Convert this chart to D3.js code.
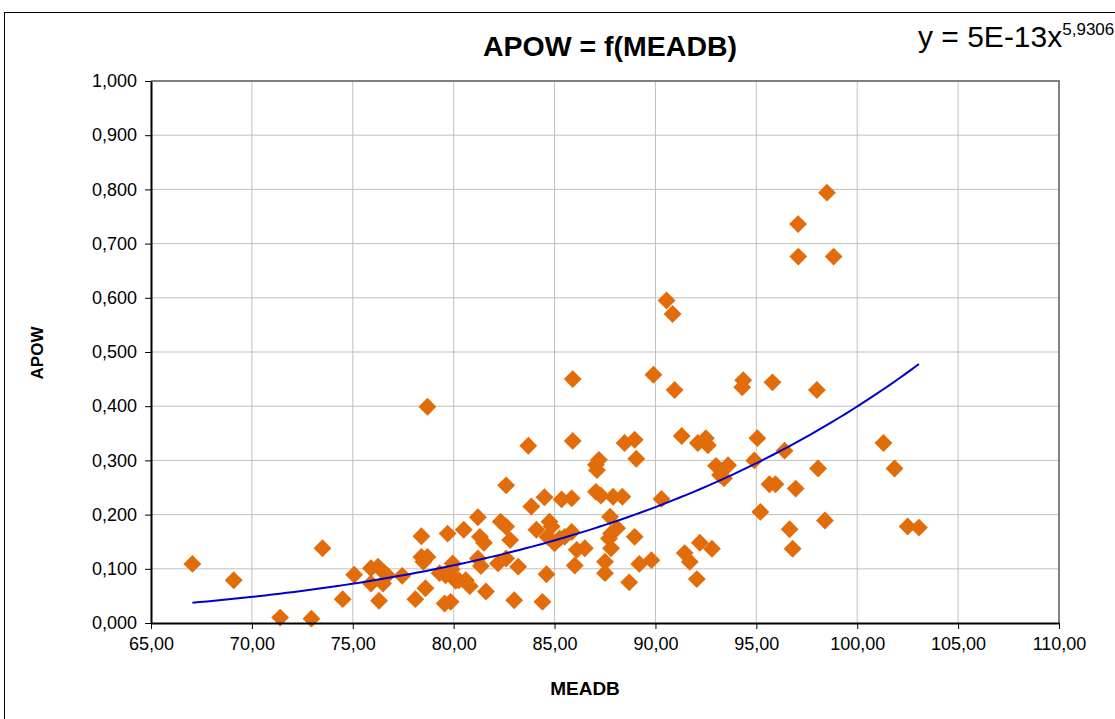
<!DOCTYPE html>
<html>
<head>
<meta charset="utf-8">
<script src="https://cdn.jsdelivr.net/npm/d3@7"></script>
<style>
  body { margin: 0; background: #fff; }
  svg text { font-family: "Liberation Sans", Arial, sans-serif; fill: #000; }
</style>
</head>
<body>
<div id="chart"></div>
<script>
// values: MEADB (x) and APOW (y)
const meadb = [
  67.05, 69.10, 71.40, 72.95, 73.50, 74.50, 75.07, 75.90, 76.25, 76.55,
  76.70, 75.90, 76.50, 76.30, 77.45, 78.10, 78.40, 78.40, 78.70, 78.50,
  78.60, 78.70, 79.30, 79.60, 79.70, 79.55, 79.85, 79.90, 79.95, 80.10,
  80.25, 80.50, 80.60, 80.80, 81.20, 81.30, 81.50, 81.20, 81.35, 81.60,
  82.20, 82.33, 82.60, 82.60, 82.60, 82.80, 83.20, 83.00, 83.70, 83.85,
  84.10, 84.50, 84.60, 84.40, 84.75, 84.85, 84.65, 85.00, 85.25, 85.35,
  85.85, 85.90, 85.90, 85.85, 85.50, 86.00, 86.10, 86.50, 87.05, 87.10,
  87.20, 87.05, 87.30, 87.50, 87.50, 87.75, 87.90, 88.36, 88.10, 87.80,
  87.70, 87.80, 88.47, 88.97, 89.05, 88.97, 88.70, 89.20, 89.80, 89.90,
  90.30, 90.55, 90.85, 90.95, 91.30, 91.45, 91.70, 92.05, 92.20, 92.80,
  92.10, 92.50, 92.60, 93.00, 93.60, 93.40, 93.20, 94.30, 94.35, 95.05,
  94.90, 95.20, 95.65, 95.95, 95.80, 96.40, 96.95, 96.65, 96.80, 97.07,
  97.08, 98.50, 98.83, 98.00, 98.06, 98.40, 101.30, 101.85, 102.50, 103.06
];
const apow = [
  0.109, 0.079, 0.010, 0.008, 0.138, 0.044, 0.089, 0.101, 0.104, 0.093,
  0.088, 0.073, 0.073, 0.041, 0.087, 0.044, 0.160, 0.122, 0.122, 0.113,
  0.064, 0.399, 0.092, 0.088, 0.165, 0.036, 0.039, 0.099, 0.110, 0.078,
  0.079, 0.172, 0.079, 0.068, 0.195, 0.159, 0.148, 0.119, 0.105, 0.058,
  0.110, 0.187, 0.178, 0.119, 0.254, 0.153, 0.104, 0.042, 0.327, 0.215,
  0.172, 0.232, 0.090, 0.039, 0.187, 0.178, 0.159, 0.147, 0.156, 0.228,
  0.230, 0.450, 0.336, 0.168, 0.159, 0.106, 0.135, 0.138, 0.292, 0.282,
  0.301, 0.242, 0.235, 0.113, 0.092, 0.196, 0.233, 0.233, 0.175, 0.165,
  0.156, 0.138, 0.332, 0.338, 0.303, 0.159, 0.075, 0.109, 0.116, 0.458,
  0.229, 0.595, 0.570, 0.430, 0.345, 0.129, 0.113, 0.081, 0.148, 0.137,
  0.332, 0.341, 0.328, 0.290, 0.291, 0.267, 0.273, 0.435, 0.448, 0.341,
  0.300, 0.205, 0.256, 0.256, 0.444, 0.318, 0.248, 0.173, 0.137, 0.736,
  0.676, 0.794, 0.676, 0.430, 0.285, 0.189, 0.332, 0.285, 0.178, 0.176
];

// tick values
const xTicks = [65, 70, 75, 80, 85, 90, 95, 100, 105, 110];
const yTicks = [0, 0.1, 0.2, 0.3, 0.4, 0.5, 0.6, 0.7, 0.8, 0.9, 1.0];

// power trendline y = a * x^b  (label shows 5E-13 / 5,9306)
const trendA = 5.5e-13, trendB = 5.9306;

const width = 1115, height = 719;
const plotLeft = 151, plotRight = 1059, plotTop = 81, plotBottom = 623;

const fmt2 = d => d3.format(".2f")(d).replace(".", ",");
const fmt3 = d => d3.format(".3f")(d).replace(".", ",");

let svg = d3.select("#chart")
  .append("svg")
  .attr("width", width)
  .attr("height", height);

// chart frame
svg.append("rect")
  .attr("x", 4.5).attr("y", 12.5)
  .attr("width", width).attr("height", height)
  .attr("fill", "#fff")
  .attr("stroke", "#000")
  .attr("stroke-width", 1);

let x = d3.scaleLinear().domain([65, 110]).range([plotLeft, plotRight]);
let y = d3.scaleLinear().domain([0, 1]).range([plotBottom, plotTop]);

// gridlines
svg.append("g")
  .selectAll("line")
  .data(xTicks.slice(1, -1))
  .enter().append("line")
  .attr("x1", d => x(d)).attr("x2", d => x(d))
  .attr("y1", plotTop).attr("y2", plotBottom)
  .attr("stroke", "#c0c0c0").attr("stroke-width", 1);

svg.append("g")
  .selectAll("line")
  .data(yTicks.slice(1, -1))
  .enter().append("line")
  .attr("x1", plotLeft).attr("x2", plotRight)
  .attr("y1", d => y(d)).attr("y2", d => y(d))
  .attr("stroke", "#c0c0c0").attr("stroke-width", 1);

// plot area border (top / right)
svg.append("path")
  .attr("d", `M${plotLeft},${plotTop}H${plotRight}V${plotBottom}`)
  .attr("fill", "none")
  .attr("stroke", "#808080")
  .attr("stroke-width", 2);

// points
let pts = meadb.map((m, i) => ({x: m, y: apow[i]}));
svg.append("g")
  .selectAll("path")
  .data(pts)
  .enter().append("path")
  .attr("d", d3.symbol(d3.symbolSquare, 160))
  .attr("transform", d => `translate(${x(d.x)},${y(d.y)}) rotate(45)`)
  .attr("fill", "#e36c0a");

// trendline
let xMin = d3.min(meadb), xMax = d3.max(meadb);
let trend = d3.range(0, 101).map(i => {
  let xv = xMin + (xMax - xMin) * i / 100;
  return {x: xv, y: trendA * Math.pow(xv, trendB)};
});
svg.append("path")
  .datum(trend)
  .attr("fill", "none")
  .attr("stroke", "#0000cc")
  .attr("stroke-width", 2)
  .attr("d", d3.line().x(d => x(d.x)).y(d => y(d.y)));

// axes
let xAxis = svg.append("g")
  .attr("transform", `translate(0,${plotBottom})`)
  .call(d3.axisBottom(x).tickValues(xTicks).tickFormat(fmt2).tickSize(6).tickSizeOuter(0));
xAxis.select(".domain").attr("stroke", "#000").attr("stroke-width", 2);
xAxis.selectAll(".tick line").attr("stroke", "#000");
xAxis.selectAll("text").attr("font-size", 18).attr("dy", "1.0em")
  .style("font-family", "Liberation Sans, Arial, sans-serif");

let yAxis = svg.append("g")
  .attr("transform", `translate(${plotLeft},0)`)
  .call(d3.axisLeft(y).tickValues(yTicks).tickFormat(fmt3).tickSize(6).tickSizeOuter(0));
yAxis.select(".domain").attr("stroke", "#000").attr("stroke-width", 2);
yAxis.selectAll(".tick line").attr("stroke", "#000");
yAxis.selectAll("text").attr("font-size", 18).attr("x", -14)
  .style("font-family", "Liberation Sans, Arial, sans-serif");

// titles
svg.append("text")
  .attr("x", 610).attr("y", 56)
  .attr("text-anchor", "middle")
  .attr("font-size", 28.5)
  .attr("font-weight", "bold")
  .text("APOW = f(MEADB)");

svg.append("text")
  .attr("x", 585).attr("y", 695)
  .attr("text-anchor", "middle")
  .attr("font-size", 19)
  .attr("font-weight", "bold")
  .text("MEADB");

svg.append("text")
  .attr("transform", "translate(43,353) rotate(-90)")
  .attr("text-anchor", "middle")
  .attr("font-size", 17)
  .attr("font-weight", "bold")
  .text("APOW");

// trendline equation
let eq = svg.append("text")
  .attr("x", 918).attr("y", 47)
  .attr("font-size", 30);
eq.append("tspan").text("y = 5E-13x");
eq.append("tspan").attr("dy", -12).attr("font-size", 17).text("5,9306");
</script>
</body>
</html>
